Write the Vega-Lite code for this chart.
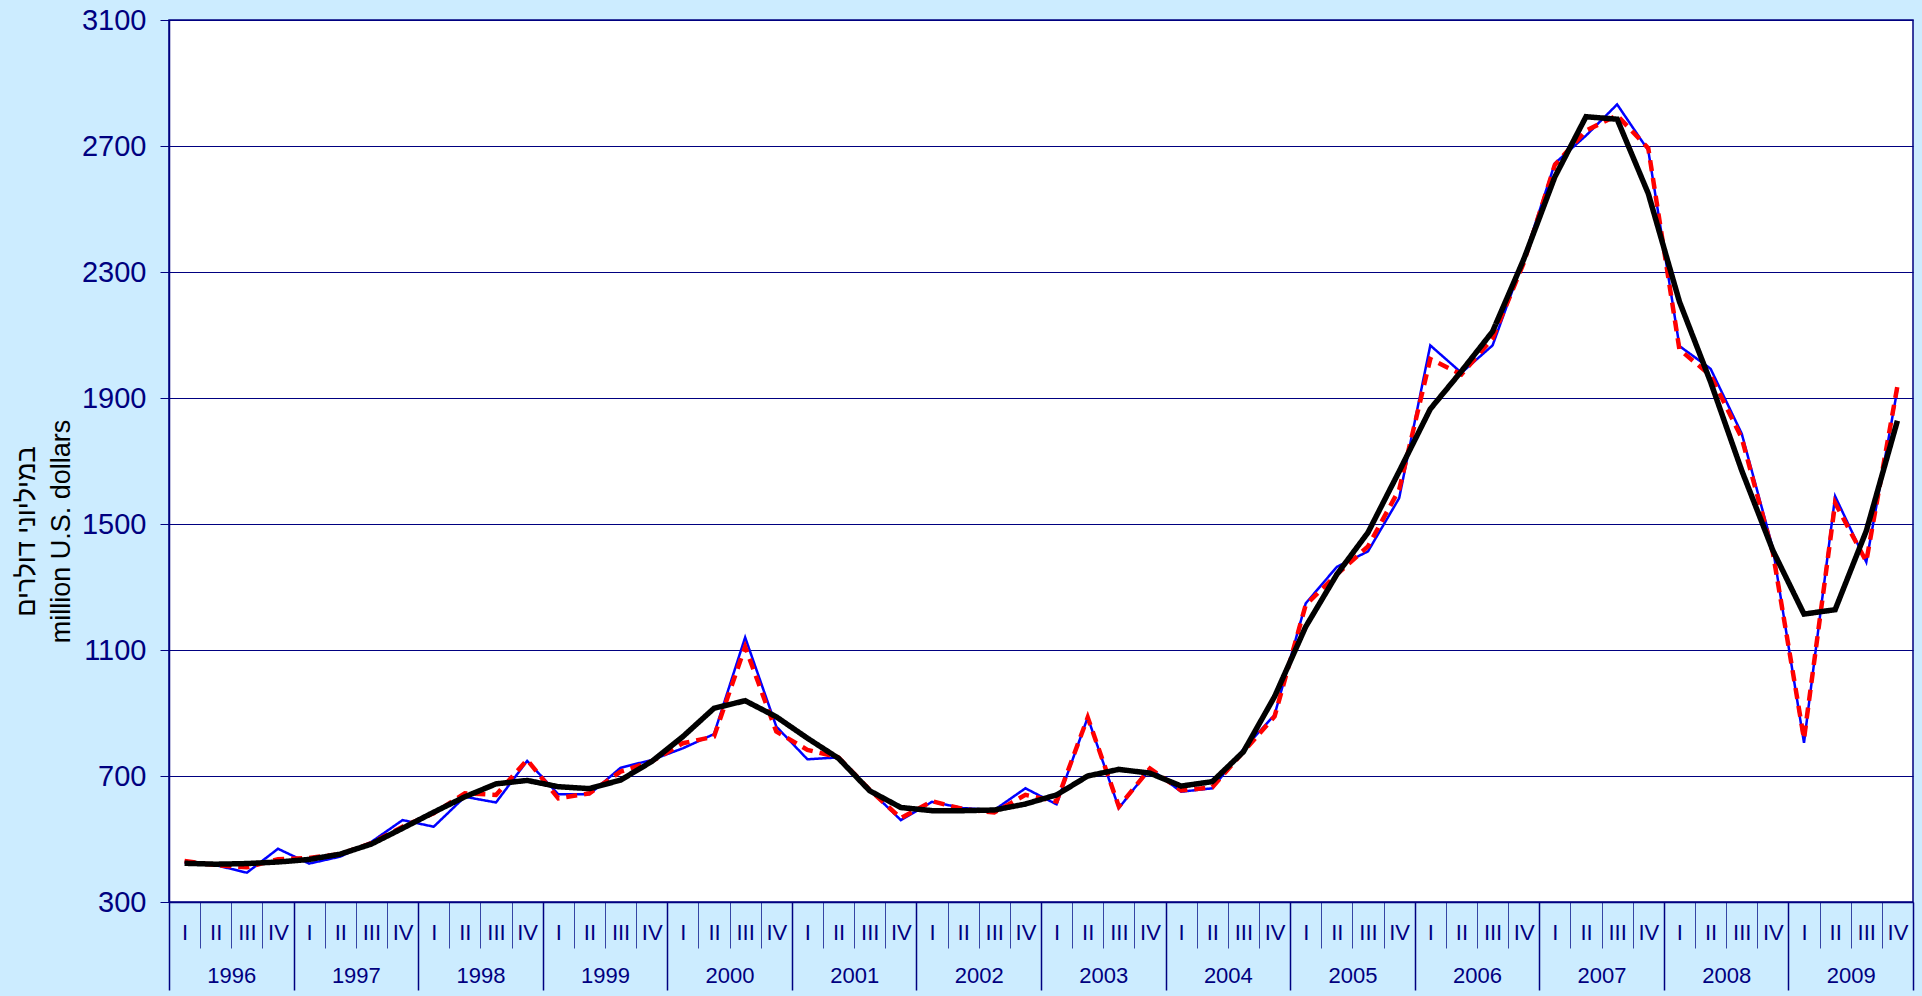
{
  "$schema": "https://vega.github.io/schema/vega-lite/v6.json",
  "width": 1744,
  "height": 882,
  "autosize": {"type": "none"},
  "padding": {"left": 169, "top": 20, "right": 9, "bottom": 94},
  "background": "#CCECFF",
  "config": {
    "view": {"fill": "#FFFFFF", "stroke": "#000080", "strokeWidth": 1.5},
    "font": "Liberation Sans"
  },
  "data": {
    "values": [
      {"q": "1996 I", "year": "1996", "actual": 425, "sa": 430, "trend": 423},
      {"q": "1996 II", "year": "1996", "actual": 417, "sa": 417, "trend": 420},
      {"q": "1996 III", "year": "1996", "actual": 393, "sa": 410, "trend": 422},
      {"q": "1996 IV", "year": "1996", "actual": 469, "sa": 436, "trend": 427},
      {"q": "1997 I", "year": "1997", "actual": 422, "sa": 440, "trend": 435},
      {"q": "1997 II", "year": "1997", "actual": 444, "sa": 452, "trend": 452},
      {"q": "1997 III", "year": "1997", "actual": 491, "sa": 487, "trend": 484},
      {"q": "1997 IV", "year": "1997", "actual": 560, "sa": 539, "trend": 534},
      {"q": "1998 I", "year": "1998", "actual": 539, "sa": 582, "trend": 585},
      {"q": "1998 II", "year": "1998", "actual": 634, "sa": 645, "trend": 634},
      {"q": "1998 III", "year": "1998", "actual": 616, "sa": 640, "trend": 675},
      {"q": "1998 IV", "year": "1998", "actual": 748, "sa": 751, "trend": 686},
      {"q": "1999 I", "year": "1999", "actual": 642, "sa": 629, "trend": 666},
      {"q": "1999 II", "year": "1999", "actual": 642, "sa": 645, "trend": 660},
      {"q": "1999 III", "year": "1999", "actual": 726, "sa": 714, "trend": 687},
      {"q": "1999 IV", "year": "1999", "actual": 751, "sa": 746, "trend": 746},
      {"q": "2000 I", "year": "2000", "actual": 788, "sa": 804, "trend": 825},
      {"q": "2000 II", "year": "2000", "actual": 833, "sa": 825, "trend": 915},
      {"q": "2000 III", "year": "2000", "actual": 1140, "sa": 1110, "trend": 939},
      {"q": "2000 IV", "year": "2000", "actual": 857, "sa": 841, "trend": 888},
      {"q": "2001 I", "year": "2001", "actual": 753, "sa": 783, "trend": 820},
      {"q": "2001 II", "year": "2001", "actual": 759, "sa": 759, "trend": 756},
      {"q": "2001 III", "year": "2001", "actual": 656, "sa": 656, "trend": 653},
      {"q": "2001 IV", "year": "2001", "actual": 560, "sa": 566, "trend": 600},
      {"q": "2002 I", "year": "2002", "actual": 618, "sa": 620, "trend": 590},
      {"q": "2002 II", "year": "2002", "actual": 598, "sa": 595, "trend": 590},
      {"q": "2002 III", "year": "2002", "actual": 592, "sa": 584, "trend": 592},
      {"q": "2002 IV", "year": "2002", "actual": 661, "sa": 640, "trend": 611},
      {"q": "2003 I", "year": "2003", "actual": 610, "sa": 619, "trend": 640},
      {"q": "2003 II", "year": "2003", "actual": 886, "sa": 886, "trend": 700},
      {"q": "2003 III", "year": "2003", "actual": 598, "sa": 603, "trend": 721},
      {"q": "2003 IV", "year": "2003", "actual": 724, "sa": 724, "trend": 709},
      {"q": "2004 I", "year": "2004", "actual": 650, "sa": 654, "trend": 668},
      {"q": "2004 II", "year": "2004", "actual": 661, "sa": 664, "trend": 682},
      {"q": "2004 III", "year": "2004", "actual": 785, "sa": 777, "trend": 777},
      {"q": "2004 IV", "year": "2004", "actual": 894, "sa": 889, "trend": 952},
      {"q": "2005 I", "year": "2005", "actual": 1248, "sa": 1243, "trend": 1174},
      {"q": "2005 II", "year": "2005", "actual": 1364, "sa": 1340, "trend": 1340},
      {"q": "2005 III", "year": "2005", "actual": 1413, "sa": 1429, "trend": 1473},
      {"q": "2005 IV", "year": "2005", "actual": 1582, "sa": 1609, "trend": 1667},
      {"q": "2006 I", "year": "2006", "actual": 2067, "sa": 2024, "trend": 1865},
      {"q": "2006 II", "year": "2006", "actual": 1980, "sa": 1975, "trend": 1985},
      {"q": "2006 III", "year": "2006", "actual": 2067, "sa": 2089, "trend": 2111},
      {"q": "2006 IV", "year": "2006", "actual": 2340, "sa": 2329, "trend": 2340},
      {"q": "2007 I", "year": "2007", "actual": 2645, "sa": 2640, "trend": 2602},
      {"q": "2007 II", "year": "2007", "actual": 2733, "sa": 2749, "trend": 2793},
      {"q": "2007 III", "year": "2007", "actual": 2832, "sa": 2797, "trend": 2785},
      {"q": "2007 IV", "year": "2007", "actual": 2686, "sa": 2693, "trend": 2549},
      {"q": "2008 I", "year": "2008", "actual": 2065, "sa": 2054, "trend": 2206},
      {"q": "2008 II", "year": "2008", "actual": 1993, "sa": 1972, "trend": 1951},
      {"q": "2008 III", "year": "2008", "actual": 1787, "sa": 1773, "trend": 1670},
      {"q": "2008 IV", "year": "2008", "actual": 1423, "sa": 1409, "trend": 1416},
      {"q": "2009 I", "year": "2009", "actual": 805, "sa": 818, "trend": 1214},
      {"q": "2009 II", "year": "2009", "actual": 1588, "sa": 1567, "trend": 1228},
      {"q": "2009 III", "year": "2009", "actual": 1379, "sa": 1381, "trend": 1478},
      {"q": "2009 IV", "year": "2009", "actual": 1928, "sa": 1938, "trend": 1828}
    ]
  },
  "layer": [
    {
      "transform": [{"fold": ["actual", "sa", "trend"], "as": ["series", "value"]}],
      "mark": {"type": "line", "strokeJoin": "miter"},
      "encoding": {
        "x": {
          "field": "q",
          "type": "ordinal",
          "sort": null,
          "scale": {"type": "band", "paddingInner": 0, "paddingOuter": 0},
          "axis": {
            "orient": "bottom",
            "title": null,
            "labelExpr": "split(datum.value, ' ')[1]",
            "tickBand": "extent",
            "tickSize": 46,
            "tickColor": "#3545A5",
            "tickWidth": 1,
            "domainColor": "#000080",
            "domainWidth": 1.5,
            "labelColor": "#000080",
            "labelFontSize": 22,
            "labelFont": "Liberation Sans",
            "labelBaseline": "middle",
            "labelPadding": -16,
            "labelAngle": 0,
            "labelOverlap": false,
            "labelBound": false,
            "labelFlush": false,
            "grid": false
          }
        },
        "y": {
          "field": "value",
          "type": "quantitative",
          "scale": {"domain": [300, 3100], "nice": false, "zero": false},
          "axis": {
            "values": [300, 700, 1100, 1500, 1900, 2300, 2700, 3100],
            "format": "d",
            "orient": "left",
            "grid": true,
            "gridColor": "#000080",
            "gridWidth": 1,
            "tickSize": 9,
            "tickColor": "#000080",
            "domainColor": "#000080",
            "domainWidth": 1.5,
            "labelColor": "#000080",
            "labelFontSize": 29,
            "labelPadding": 14,
            "labelFont": "Liberation Sans",
            "title": ["במיליוני דולרים", "million U.S. dollars"],
            "titleColor": "#000000",
            "titleFont": "Liberation Sans",
            "titleFontSize": 27,
            "titleFontWeight": "normal",
            "titleAngle": -90,
            "titleX": -135,
            "titleY": 511,
            "titleBaseline": "alphabetic",
            "titleAlign": "center",
            "titleLineHeight": 35
          }
        },
        "color": {
          "field": "series",
          "type": "nominal",
          "scale": {"domain": ["actual", "sa", "trend"], "range": ["#0000FF", "#FF0000", "#000000"]},
          "legend": null
        },
        "strokeDash": {
          "field": "series",
          "type": "nominal",
          "scale": {"domain": ["actual", "sa", "trend"], "range": [[1, 0], [11, 7], [1, 0]]},
          "legend": null
        },
        "strokeWidth": {
          "field": "series",
          "type": "nominal",
          "scale": {"type": "ordinal", "domain": ["actual", "sa", "trend"], "range": [2.5, 4.5, 5.5]},
          "legend": null
        }
      }
    },
    {
      "mark": {"type": "point", "opacity": 0},
      "encoding": {
        "x": {
          "field": "year",
          "type": "ordinal",
          "sort": null,
          "scale": {"type": "band", "paddingInner": 0, "paddingOuter": 0},
          "axis": {
            "orient": "bottom",
            "title": null,
            "tickBand": "extent",
            "tickSize": 88,
            "tickColor": "#000080",
            "tickWidth": 1.5,
            "domain": false,
            "labelColor": "#000080",
            "labelFontSize": 22,
            "labelFont": "Liberation Sans",
            "labelBaseline": "middle",
            "labelPadding": -15,
            "labelAngle": 0,
            "labelOverlap": false,
            "labelBound": false,
            "labelFlush": false,
            "grid": false
          }
        }
      }
    }
  ],
  "resolve": {"scale": {"x": "independent"}, "axis": {"x": "independent"}}
}
